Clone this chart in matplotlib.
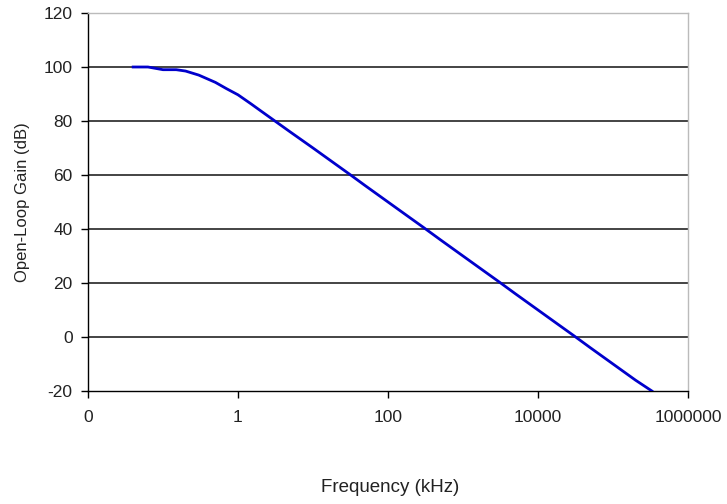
import matplotlib
matplotlib.use("Agg")
import matplotlib.pyplot as plt
from matplotlib.ticker import FixedLocator, FixedFormatter, NullLocator

plt.rcParams['font.family'] = ['Liberation Sans', 'DejaVu Sans']
plt.rcParams['axes.unicode_minus'] = False

# values
freq_khz = [0.04, 0.063, 0.1, 0.15, 0.2, 0.3, 0.5, 0.7, 1, 1.5, 2, 3, 5, 10, 20, 30, 50,
            100, 200, 300, 500, 1000, 2000, 3000, 5000, 10000, 20000, 30000, 50000,
            100000, 200000, 330000]
gain_db = [100, 100, 99, 99, 98.5, 97, 94.3, 92, 89.7, 86.3, 83.8, 80.3, 75.9, 70, 64, 60.5, 56,
           50, 44, 40.5, 36, 30, 24, 20.5, 16, 10, 4, 0.5, -4, -10, -16, -20]

xticks = [0.01, 1, 100, 10000, 1000000]
xtick_labels = ['0', '1', '100', '10000', '1000000']
yticks = [-20, 0, 20, 40, 60, 80, 100, 120]

fig = plt.figure(figsize=(7.27, 5.04), dpi=100)
ax = fig.add_axes([88/727, 1 - 391/504, 600/727, 378/504])

ax.plot(freq_khz, gain_db, color='#0000CC', lw=2.0, solid_joinstyle='round', zorder=3)

ax.set_xscale('log')
ax.set_xlim(0.01, 1000000)
ax.set_ylim(-20, 120)
ax.xaxis.set_major_locator(FixedLocator(xticks))
ax.xaxis.set_major_formatter(FixedFormatter(xtick_labels))
ax.xaxis.set_minor_locator(NullLocator())
ax.set_yticks(yticks)

for v in yticks[1:-1]:
    ax.axhline(v, color='#111111', lw=1.1, zorder=1)

ax.spines['top'].set_color('#BBBBBB')
ax.spines['right'].set_color('#BBBBBB')
ax.spines['left'].set_color('black')
ax.spines['bottom'].set_color('black')
for s in ax.spines.values():
    s.set_linewidth(1.0)

ax.tick_params(axis='both', direction='out', length=5, width=1, color='black',
               labelsize=12.5, labelcolor='#222222')
ax.tick_params(axis='x', pad=9)
ax.tick_params(axis='y', pad=6)

ax.set_ylabel('Open-Loop Gain (dB)', fontsize=12, color='#222222', labelpad=10)
fig.text(390/727, 1 - 487/504, 'Frequency (kHz)', ha='center', va='center',
         fontsize=13.5, color='#222222')

fig.savefig('out.png', dpi=100, facecolor='white')
